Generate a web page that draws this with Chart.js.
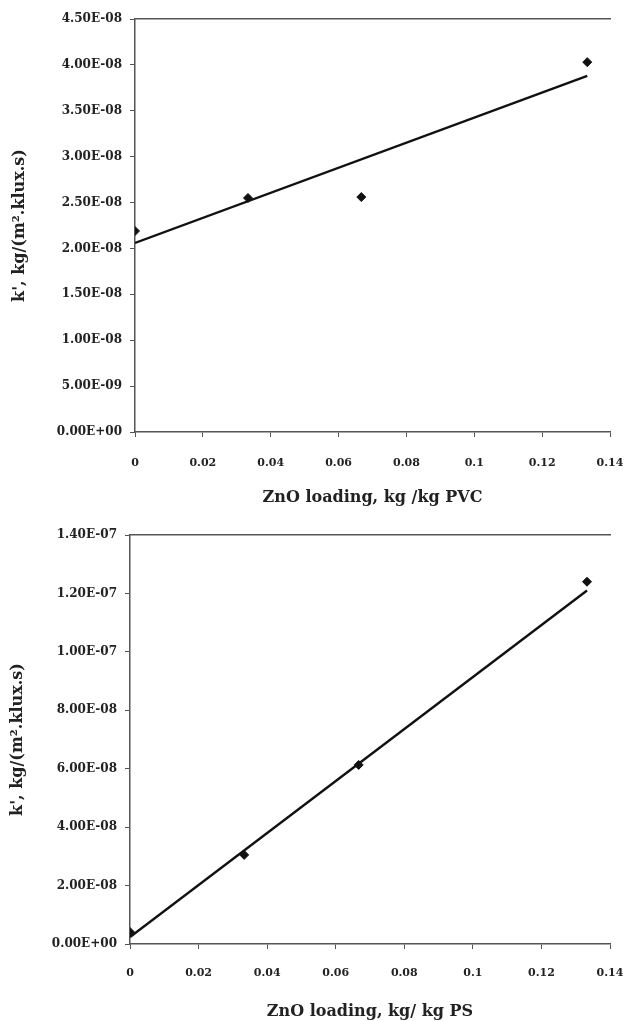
<!DOCTYPE html>
<html>
<head>
<meta charset="utf-8">
<script src="https://cdn.jsdelivr.net/npm/chart.js@4"></script>
<style>
  body { margin: 0; background: #fff; }
  .box { position: relative; width: 624px; }
  #top { height: 510px; }
  #bottom { height: 511px; }
</style>
</head>
<body>
<div class="box" id="top"><canvas id="pvc"></canvas></div>
<div class="box" id="bottom"><canvas id="ps"></canvas></div>
<script>
// ZnO loading, kg/kg
const loading = [0, 0.0333, 0.0667, 0.1333];

// PVC (top chart)
const pvcRate = [2.19e-8, 2.55e-8, 2.56e-8, 4.03e-8];
const pvcFitX = [0, 0.1333];
const pvcFitY = [2.06e-8, 3.88e-8];
const pvcTicksY = [0, 5e-9, 1e-8, 1.5e-8, 2e-8, 2.5e-8, 3e-8, 3.5e-8, 4e-8, 4.5e-8];

// PS (bottom chart)
const psRate = [4.1e-9, 3.05e-8, 6.13e-8, 1.24e-7];
const psFitX = [0, 0.1333];
const psFitY = [2.4e-9, 1.21e-7];
const psTicksY = [0, 2e-8, 4e-8, 6e-8, 8e-8, 1e-7, 1.2e-7, 1.4e-7];

const ticksX = [0, 0.02, 0.04, 0.06, 0.08, 0.1, 0.12, 0.14];

const serif = 'DejaVu Serif';

// 4.50E-08 style
function sci(v) {
  if (v === 0) return '0.00E+00';
  const [m, e] = v.toExponential(2).toUpperCase().split('E');
  const n = parseInt(e, 10);
  return m + 'E' + (n < 0 ? '-' : '+') + String(Math.abs(n)).padStart(2, '0');
}

function makeChart(id, rate, fitX, fitY, ticksY, yMax, xTitle, yW, xH, xPad, titlePad, pad) {
  const pts = loading.map((x, i) => ({ x: x, y: rate[i] }));
  const fit = fitX.map((x, i) => ({ x: x, y: fitY[i] }));
  return new Chart(document.getElementById(id), {
    type: 'scatter',
    data: {
      datasets: [
        {
          data: pts,
          pointStyle: 'rectRot',
          pointRadius: 4.5,
          backgroundColor: '#111',
          borderColor: '#111',
          showLine: false
        },
        {
          data: fit,
          showLine: true,
          pointRadius: 0,
          borderColor: '#111',
          borderWidth: 2.4
        }
      ]
    },
    options: {
      responsive: true,
      maintainAspectRatio: false,
      animation: false,
      layout: { padding: pad },
      plugins: { legend: { display: false }, tooltip: { enabled: false } },
      scales: {
        x: {
          type: 'linear',
          min: 0,
          max: 0.14,
          afterBuildTicks: s => { s.ticks = ticksX.map(v => ({ value: v })); },
          afterFit: s => { s.height = xH; s.paddingLeft = 0; s.paddingRight = 0; },
          grid: { drawOnChartArea: false, color: '#555', tickLength: 5 },
          border: { color: '#555', width: 1.5 },
          ticks: {
            color: '#222',
            padding: xPad,
            font: { family: serif, size: 11, weight: 'bold' },
            callback: v => String(Math.round(v * 100) / 100)
          },
          title: {
            display: true,
            text: xTitle,
            color: '#222',
            padding: { top: 0, bottom: titlePad },
            font: { family: serif, size: 16, weight: 'bold' }
          }
        },
        x2: {
          type: 'linear',
          position: 'top',
          min: 0,
          max: 0.14,
          grid: { display: false },
          border: { color: '#555', width: 1.5 },
          ticks: { display: false },
          afterFit: s => { s.height = 0; s.paddingLeft = 0; s.paddingRight = 0; }
        },
        y: {
          min: 0,
          max: yMax,
          afterBuildTicks: s => { s.ticks = ticksY.map(v => ({ value: v })); },
          afterFit: s => { s.width = yW; },
          grid: { drawOnChartArea: false, color: '#555', tickLength: 5 },
          border: { color: '#555', width: 1.5 },
          ticks: {
            color: '#222',
            padding: 8,
            font: { family: serif, size: 12, weight: 'bold' },
            callback: v => sci(v)
          },
          title: {
            display: true,
            text: "k', kg/(m².klux.s)",
            color: '#222',
            padding: { top: 0, bottom: 2 },
            font: { family: serif, size: 16, weight: 'bold' }
          }
        }
      }
    }
  });
}

makeChart('pvc', pvcRate, pvcFitX, pvcFitY, pvcTicksY, 4.5e-8,
  'ZnO loading, kg /kg PVC', 125, 78, 20, 3, { left: 10, right: 14, top: 19, bottom: 0 });
makeChart('ps', psRate, psFitX, psFitY, psTicksY, 1.4e-7,
  'ZnO loading, kg/ kg PS', 122, 77, 18, 0, { left: 8, right: 14, top: 25, bottom: 0 });
</script>
</body>
</html>
